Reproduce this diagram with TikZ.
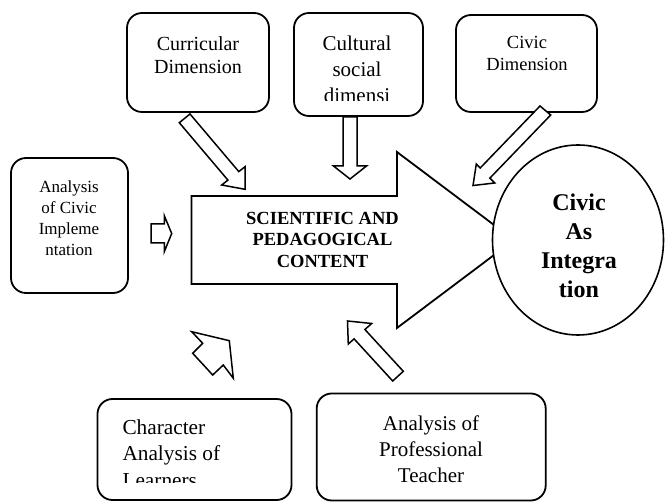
\documentclass[tikz,border=0pt]{standalone}
\usepackage{fontspec}
\setmainfont{Liberation Serif}
\usetikzlibrary{shapes.geometric}
\begin{document}
\begin{tikzpicture}[x=1pt,y=-1pt,
  box/.style={draw, line width=1.8pt, rounded corners=15pt, inner sep=0pt},
  blk/.style={draw, line width=1.5pt, fill=white, line join=miter},
  txt/.style={inner sep=0pt, align=center, anchor=north},
]
\useasboundingbox (0,0) rectangle (665,502);

% boxes
\node[box, minimum width=142pt, minimum height=99pt] (cur) at (198,62.5) {};
\node[box, minimum width=129pt, minimum height=103pt] (cul) at (358.5,64.5) {};
\node[box, minimum width=141pt, minimum height=97pt] (civd) at (526.5,63.5) {};
\node[box, minimum width=117pt, minimum height=135pt] (ana) at (69.5,225.5) {};
\node[box, minimum width=194pt, minimum height=101pt] (cha) at (194.5,449.5) {};
\node[box, minimum width=229pt, minimum height=107pt] (pro) at (431.2,447) {};

% box texts
\node[txt, font=\fontsize{20}{23}\selectfont] (curT) at (198,36) {Curricular\\Dimension};
\begin{scope}
  \clip (294,13) rectangle (423,100.6);
  \node[txt, font=\fontsize{21}{26}\selectfont] (culT) at (357,35.6) {Cultural\\social\\dimensi};
\end{scope}
\node[txt, font=\fontsize{18.5}{22}\selectfont] (civdT) at (527,36.5) {Civic\\Dimension};
\node[txt, font=\fontsize{17}{21}\selectfont] (anaT) at (69,181) {Analysis\\of Civic\\Impleme\\ntation};
\begin{scope}
  \clip (97,398) rectangle (292,483);
  \node[txt, anchor=north west, align=left, font=\fontsize{21.3}{26.5}\selectfont] (chaT) at (122.3,419.5) {Character\\Analysis of\\Learners};
\end{scope}
\node[txt, font=\fontsize{21}{26}\selectfont] (proT) at (431,415.6) {Analysis of\\Professional\\Teacher};

% main arrow
\draw[line width=1.8pt, fill=white, line join=miter]
  (191.5,196) -- (397,196) -- (397,152) -- (514,240) -- (397,328) -- (397,284) -- (191.5,284) -- cycle;
\node[txt, font=\bfseries\fontsize{18.5}{21.5}\selectfont] (main) at (322.5,211.8) {SCIENTIFIC AND\\PEDAGOGICAL\\CONTENT};

% circle
\node[draw, line width=1.6pt, fill=white, ellipse, minimum width=171pt, minimum height=190pt, inner sep=0pt] (civ) at (578,240) {};
\node[txt, font=\bfseries\fontsize{24}{29}\selectfont] (civT) at (579,193.6) {Civic\\As\\Integra\\tion};

% block arrows
\draw[blk] (190,114) -- (238.8,171.6) -- (245,166.7) -- (245,189.3) -- (221.7,185) -- (227.9,180.1) -- (179.3,122.7) -- cycle;
\draw[blk] (343,117) -- (343,166) -- (333.5,166) -- (350,179) -- (366.5,166) -- (357,166) -- (357,117) -- cycle;
\draw[blk] (540,106) -- (480.2,168) -- (476.3,164) -- (473,185.5) -- (494.7,183) -- (489.9,178.1) -- (550.7,115) -- cycle;
\draw[blk] (151,224) -- (164.3,224) -- (164.3,215.7) -- (171.7,233.5) -- (164.3,251.7) -- (164.3,243) -- (151,243) -- cycle;
\draw[blk] (191.7,331.7) -- (229.3,340.7) -- (233.3,378.3) -- (223.3,365) -- (212.7,375) -- (192.7,353.3) -- (202.7,343.3) -- cycle;
\draw[blk] (403.3,371.3) -- (364.9,329.5) -- (371.7,323.5) -- (347.5,321) -- (348.3,344) -- (354.1,338.9) -- (392.7,381) -- cycle;
\end{tikzpicture}
\end{document}
